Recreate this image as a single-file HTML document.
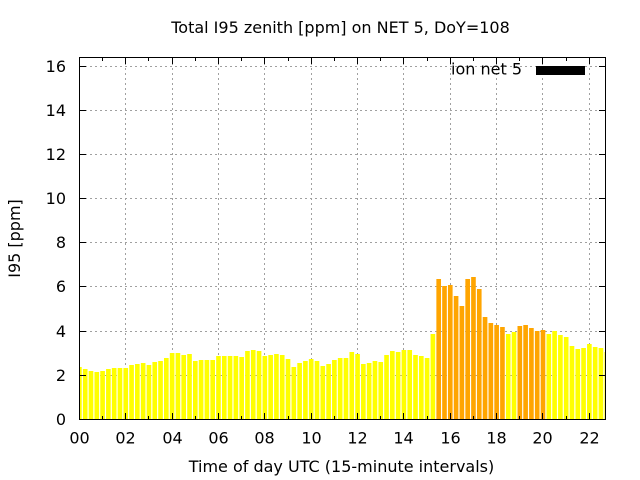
<!DOCTYPE html>
<html><head><meta charset="utf-8"><style>
html,body{margin:0;padding:0;background:#fff;}
svg{display:block;}
text{font-family:"DejaVu Sans","Liberation Sans",sans-serif;font-size:16px;fill:#000;}
</style></head><body>
<svg width="640" height="480" viewBox="0 0 640 480" xmlns="http://www.w3.org/2000/svg">
<rect x="0" y="0" width="640" height="480" fill="#fff"/>
<defs><clipPath id="pc"><rect x="80" y="57" width="526" height="362"/></clipPath></defs>
<path fill="none" stroke="#a0a0a0" stroke-width="1" stroke-dasharray="2,3" d="M80 375.5H605M80 331.5H605M80 286.5H605M80 242.5H605M80 198.5H605M80 154.5H605M80 110.5H605M80 66.5H605 M125.5 58V419M172.5 58V419M218.5 58V419M264.5 58V419M311.5 58V419M357.5 58V419M403.5 58V419M450.5 58V419M496.5 58V419M542.5 58V419M589.5 58V419"/>
<g clip-path="url(#pc)">
<path fill="#ffff00" d="M77.08 419V367h4.64V419z M82.88 419V369h4.64V419z M88.67 419V371h4.64V419z M94.47 419V372h4.64V419z M100.26 419V371h4.64V419z M106.06 419V369h4.64V419z M111.85 419V368h4.64V419z M117.65 419V368h4.64V419z M123.44 419V368h4.64V419z M129.24 419V365h4.64V419z M135.03 419V364h4.64V419z M140.83 419V363h4.64V419z M146.62 419V365h4.64V419z M152.42 419V362h4.64V419z M158.21 419V361h4.64V419z M164.01 419V358h4.64V419z M169.8 419V353h4.64V419z M175.6 419V353h4.64V419z M181.39 419V355h4.64V419z M187.19 419V354h4.64V419z M192.98 419V361h4.64V419z M198.78 419V360h4.64V419z M204.57 419V360h4.64V419z M210.37 419V360h4.64V419z M216.16 419V356h4.64V419z M221.96 419V356h4.64V419z M227.75 419V356h4.64V419z M233.55 419V356h4.64V419z M239.34 419V357h4.64V419z M245.14 419V351h4.64V419z M250.93 419V350h4.64V419z M256.73 419V351h4.64V419z M262.52 419V356h4.64V419z M268.32 419V355h4.64V419z M274.11 419V354h4.64V419z M279.91 419V355h4.64V419z M285.7 419V359h4.64V419z M291.5 419V367h4.64V419z M297.29 419V363h4.64V419z M303.09 419V361h4.64V419z M308.88 419V359h4.64V419z M314.68 419V361h4.64V419z M320.47 419V366h4.64V419z M326.27 419V364h4.64V419z M332.06 419V360h4.64V419z M337.86 419V358h4.64V419z M343.65 419V358h4.64V419z M349.45 419V352h4.64V419z M355.24 419V354h4.64V419z M361.04 419V364h4.64V419z M366.83 419V363h4.64V419z M372.63 419V361h4.64V419z M378.42 419V362h4.64V419z M384.22 419V355h4.64V419z M390.01 419V351h4.64V419z M395.81 419V352h4.64V419z M401.6 419V350h4.64V419z M407.4 419V350h4.64V419z M413.19 419V355h4.64V419z M418.99 419V356h4.64V419z M424.78 419V358h4.64V419z M430.58 419V334h4.64V419z M505.91 419V334h4.64V419z M511.71 419V332h4.64V419z M546.48 419V334h4.64V419z M552.27 419V331h4.64V419z M558.07 419V335h4.64V419z M563.86 419V337h4.64V419z M569.66 419V346h4.64V419z M575.45 419V349h4.64V419z M581.25 419V348h4.64V419z M587.04 419V344h4.64V419z M592.84 419V347h4.64V419z M598.63 419V348h4.64V419z M604.43 419V352h4.64V419z"/>
<path fill="#ffa500" d="M436.37 419V279h4.64V419z M442.17 419V286h4.64V419z M447.96 419V285h4.64V419z M453.76 419V296h4.64V419z M459.55 419V306h4.64V419z M465.35 419V279h4.64V419z M471.14 419V277h4.64V419z M476.94 419V289h4.64V419z M482.73 419V317h4.64V419z M488.53 419V323h4.64V419z M494.32 419V325h4.64V419z M500.12 419V327h4.64V419z M517.5 419V326h4.64V419z M523.3 419V325h4.64V419z M529.09 419V328h4.64V419z M534.89 419V331h4.64V419z M540.68 419V330h4.64V419z"/>
</g>
<path fill="none" stroke="#000" stroke-width="1" d="M80 375.5h6M599 375.5h6M80 331.5h6M599 331.5h6M80 286.5h6M599 286.5h6M80 242.5h6M599 242.5h6M80 198.5h6M599 198.5h6M80 154.5h6M599 154.5h6M80 110.5h6M599 110.5h6M80 66.5h6M599 66.5h6 M125.5 58v6M125.5 413v6M172.5 58v6M172.5 413v6M218.5 58v6M218.5 413v6M264.5 58v6M264.5 413v6M311.5 58v6M311.5 413v6M357.5 58v6M357.5 413v6M403.5 58v6M403.5 413v6M450.5 58v6M450.5 413v6M496.5 58v6M496.5 413v6M542.5 58v6M542.5 413v6M589.5 58v6M589.5 413v6 M102.5 58v3M102.5 416v3M148.5 58v3M148.5 416v3M195.5 58v3M195.5 416v3M241.5 58v3M241.5 416v3M288.5 58v3M288.5 416v3M334.5 58v3M334.5 416v3M380.5 58v3M380.5 416v3M427.5 58v3M427.5 416v3M473.5 58v3M473.5 416v3M519.5 58v3M519.5 416v3M566.5 58v3M566.5 416v3"/>
<rect x="79.5" y="57.5" width="526" height="362" fill="none" stroke="#000" stroke-width="1"/>
<g text-anchor="end">
<text x="66" y="425">0</text>
<text x="66" y="381">2</text>
<text x="66" y="337">4</text>
<text x="66" y="292">6</text>
<text x="66" y="248">8</text>
<text x="66" y="204">10</text>
<text x="66" y="160">12</text>
<text x="66" y="116">14</text>
<text x="66" y="72">16</text>
</g>
<g text-anchor="middle">
<text x="79.5" y="443.5">00</text>
<text x="125.5" y="443.5">02</text>
<text x="172.5" y="443.5">04</text>
<text x="218.5" y="443.5">06</text>
<text x="264.5" y="443.5">08</text>
<text x="311.5" y="443.5">10</text>
<text x="357.5" y="443.5">12</text>
<text x="403.5" y="443.5">14</text>
<text x="450.5" y="443.5">16</text>
<text x="496.5" y="443.5">18</text>
<text x="542.5" y="443.5">20</text>
<text x="589.5" y="443.5">22</text>
</g>
<text x="340.5" y="33" text-anchor="middle">Total I95 zenith [ppm] on NET 5, DoY=108</text>
<text x="341.5" y="472" text-anchor="middle">Time of day UTC (15-minute intervals)</text>
<text transform="translate(20,238.5) rotate(-90)" text-anchor="middle">I95 [ppm]</text>
<text x="522" y="74.5" text-anchor="end">ion net 5</text>
<rect x="536" y="66" width="49" height="9" fill="#000"/>
</svg>
</body></html>
